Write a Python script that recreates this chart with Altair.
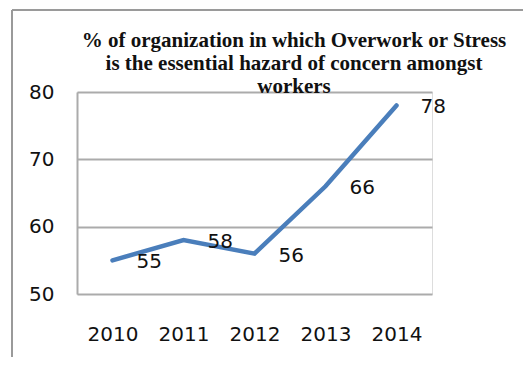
import altair as alt
import pandas as pd

years = ["2010", "2011", "2012", "2013", "2014"]
values = [55, 58, 56, 66, 78]
y_ticks = [50, 60, 70, 80]
title_lines = [
    "% of organization in which Overwork or Stress",
    "is the essential hazard of concern amongst",
    "workers",
]

df = pd.DataFrame({"year": years, "value": values})

W, H = 355, 202
LABEL_FONT = "DejaVu Sans"

x = alt.X(
    "year:O",
    sort=years,
    scale=alt.Scale(type="point", padding=0.5),
    axis=alt.Axis(
        title=None, labelAngle=0, labelFont=LABEL_FONT, labelFontSize=20,
        labelColor="#111111", labelPadding=30, ticks=False, domain=False, grid=False,
    ),
)
y = alt.Y(
    "value:Q",
    scale=alt.Scale(domain=[50, 80], nice=False, zero=False),
    axis=alt.Axis(
        title=None, values=y_ticks, labelFont=LABEL_FONT, labelFontSize=20,
        labelColor="#111111", labelPadding=23, ticks=False, domain=True,
        domainColor="#ABABAB", domainWidth=2, grid=True, gridColor="#ABABAB",
        gridWidth=2,
    ),
)

base = alt.Chart(df)

line = base.mark_line(color="#4A7EBB", strokeWidth=4.5, strokeCap="round").encode(x=x, y=y)

labels = base.mark_text(
    align="left", baseline="middle", dx=24, dy=2,
    font=LABEL_FONT, fontSize=20, color="#111111",
).encode(x="year:O", y="value:Q", text="value:Q")

one = alt.Chart(pd.DataFrame({"k": [0]}))

box_left = one.mark_rule(color="#9A9A9A", strokeWidth=2).encode(
    x=alt.value(-65), y=alt.value(-82), y2=alt.value(300)
)
box_top = one.mark_rule(color="#9A9A9A", strokeWidth=2).encode(
    x=alt.value(-65), x2=alt.value(460), y=alt.value(-82)
)

title = one.mark_text(
    font="Liberation Serif", fontSize=21, fontWeight="bold", color="#111111",
    align="center", baseline="alphabetic", lineHeight=23,
).encode(x=alt.value(217), y=alt.value(-45), text=alt.value(title_lines))

chart = alt.layer(box_left, box_top, line, labels, title).properties(
    width=W, height=H,
    autosize="none",
    padding={"left": 69, "top": 84, "right": 91, "bottom": 63},
).configure_view(stroke=None).configure(background="white")

chart.save("out.html", embed_options={"renderer": "svg", "actions": False})
